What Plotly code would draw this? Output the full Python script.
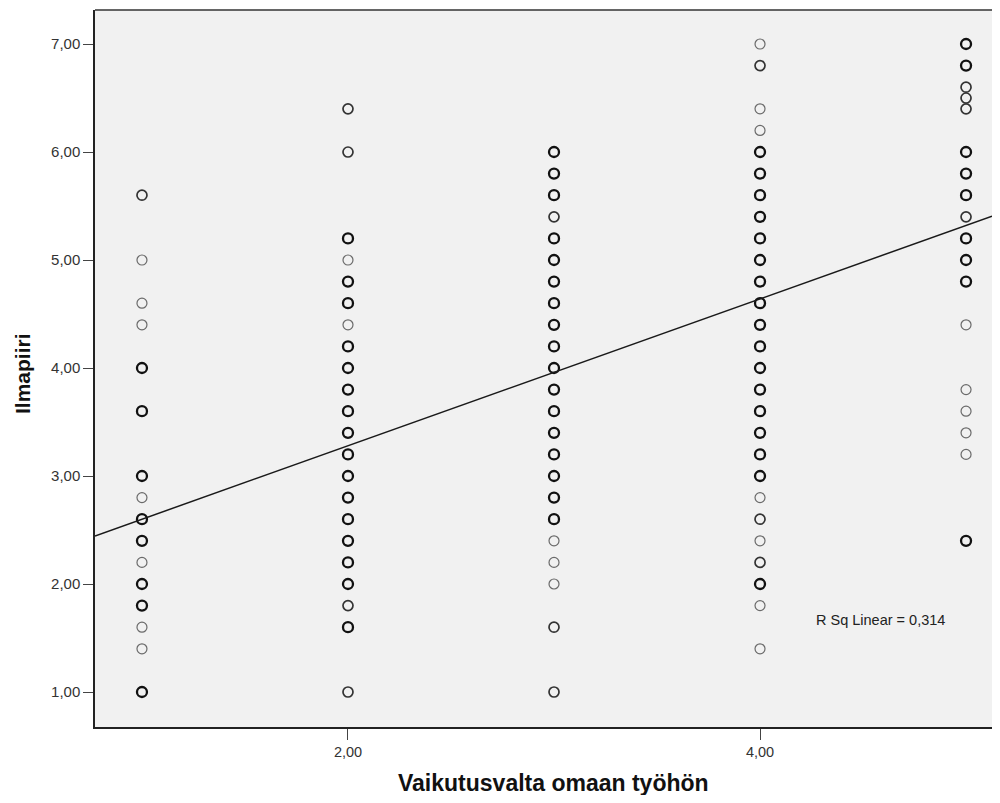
import plotly.graph_objects as go

# ---- data ----
x_categories = [1, 2, 3, 4, 5]

col1_y = [5.6, 5.0, 4.6, 4.4, 4.0, 3.6, 3.0, 2.8, 2.6, 2.4, 2.2, 2.0, 1.8, 1.6, 1.4, 1.0]
col1_n = [2, 1, 1, 1, 3, 3, 3, 1, 3, 3, 1, 3, 3, 1, 1, 3]

col2_y = [6.4, 6.0, 5.2, 5.0, 4.8, 4.6, 4.4, 4.2, 4.0, 3.8, 3.6, 3.4, 3.2, 3.0, 2.8, 2.6, 2.4, 2.2, 2.0, 1.8, 1.6, 1.0]
col2_n = [2, 2, 3, 1, 3, 3, 1, 3, 3, 3, 3, 3, 3, 3, 3, 3, 3, 3, 3, 2, 3, 2]

col3_y = [6.0, 5.8, 5.6, 5.4, 5.2, 5.0, 4.8, 4.6, 4.4, 4.2, 4.0, 3.8, 3.6, 3.4, 3.2, 3.0, 2.8, 2.6, 2.4, 2.2, 2.0, 1.6, 1.0]
col3_n = [3, 3, 3, 2, 3, 3, 3, 3, 3, 3, 3, 3, 3, 3, 3, 3, 3, 3, 1, 1, 1, 2, 2]

col4_y = [7.0, 6.8, 6.4, 6.2, 6.0, 5.8, 5.6, 5.4, 5.2, 5.0, 4.8, 4.6, 4.4, 4.2, 4.0, 3.8, 3.6, 3.4, 3.2, 3.0, 2.8, 2.6, 2.4, 2.2, 2.0, 1.8, 1.4]
col4_n = [1, 2, 1, 1, 3, 3, 3, 3, 3, 3, 3, 3, 3, 3, 3, 3, 3, 3, 3, 3, 1, 2, 1, 2, 3, 1, 1]

col5_y = [7.0, 6.8, 6.6, 6.5, 6.4, 6.0, 5.8, 5.6, 5.4, 5.2, 5.0, 4.8, 4.4, 3.8, 3.6, 3.4, 3.2, 2.4]
col5_n = [3, 3, 2, 2, 2, 3, 3, 3, 2, 3, 3, 3, 1, 1, 1, 1, 1, 3]

reg_intercept = 1.92
reg_slope = 0.68
r_sq_text = "R Sq Linear = 0,314"

x_tick_vals = [2, 4]
y_tick_vals = [1, 2, 3, 4, 5, 6, 7]
x_title = "Vaikutusvalta omaan työhön"
y_title = "Ilmapiiri"

x_range = [0.772, 5.126]
y_range = [0.676, 7.315]

# ---- build ----
cols_y = [col1_y, col2_y, col3_y, col4_y, col5_y]
cols_n = [col1_n, col2_n, col3_n, col4_n, col5_n]

style = {
    1: dict(width=1.2, color="#6a6a6a"),
    2: dict(width=1.7, color="#333333"),
    3: dict(width=2.3, color="#111111"),
}

fig = go.Figure()
for level in (1, 2, 3):
    xs, ys = [], []
    for xc, yl, nl in zip(x_categories, cols_y, cols_n):
        for yv, nv in zip(yl, nl):
            if nv == level:
                xs.append(xc)
                ys.append(yv)
    fig.add_trace(go.Scatter(
        x=xs, y=ys, mode="markers",
        marker=dict(symbol="circle-open", size=10,
                    line=style[level], color=style[level]["color"]),
        showlegend=False, hoverinfo="x+y"))

lx = x_range
ly = [reg_intercept + reg_slope * v for v in lx]
fig.add_trace(go.Scatter(x=lx, y=ly, mode="lines",
                         line=dict(color="#1a1a1a", width=1.5),
                         showlegend=False, hoverinfo="skip"))

base_font = "Liberation Sans, Arial, sans-serif"

# page has an 8px body margin: figure origin sits at (8, 8)
W, H = 984, 787
ML, MR, MT, MB = 87, 0, 2, 68
pw = W - ML - MR
ph = H - MT - MB
px0, py_bottom = 8 + ML, 8 + H - MB  # plot area left / bottom in page px

fig.update_layout(
    width=W, height=H,
    margin=dict(l=ML, r=MR, t=MT, b=MB),
    paper_bgcolor="white",
    plot_bgcolor="#f1f1f1",
    separators=", ",
    font=dict(family=base_font, size=12, color="#333"),
    xaxis=dict(range=x_range, tickvals=x_tick_vals, tickformat=".2f",
               showgrid=False, zeroline=False,
               showline=True, linecolor="#222", linewidth=1.5,
               ticks="outside", ticklen=11, tickwidth=1, tickcolor="#444",
               tickfont=dict(family=base_font, size=14.5, color="#333")),
    yaxis=dict(range=y_range, tickvals=y_tick_vals, tickformat=".2f",
               showgrid=False, zeroline=False,
               showline=True, linecolor="#222", linewidth=1.5,
               ticks="outside", ticklen=10, tickwidth=1, tickcolor="#444",
               tickfont=dict(family=base_font, size=15, color="#333")),
    shapes=[dict(type="line", xref="paper", yref="paper", x0=0, x1=1, y0=1, y1=1,
                 line=dict(color="#333", width=1.5))],
    annotations=[
        dict(text=r_sq_text, x=(814 - px0) / pw, y=(py_bottom - 620) / ph,
             xref="paper", yref="paper",
             xanchor="left", yanchor="middle", showarrow=False,
             font=dict(family=base_font, size=14.5, color="#222")),
        dict(text="<b>" + x_title + "</b>", x=(553 - px0) / pw, y=-(783 - py_bottom) / ph,
             xref="paper", yref="paper", xanchor="center", yanchor="middle",
             showarrow=False, font=dict(family=base_font, size=23, color="#111")),
        dict(text="<b>" + y_title + "</b>", x=-(px0 - 22) / pw, y=(py_bottom - 374) / ph,
             xref="paper", yref="paper", xanchor="center", yanchor="middle",
             textangle=-90, showarrow=False,
             font=dict(family=base_font, size=21, color="#111")),
    ],
)

fig.write_html("out.html")
